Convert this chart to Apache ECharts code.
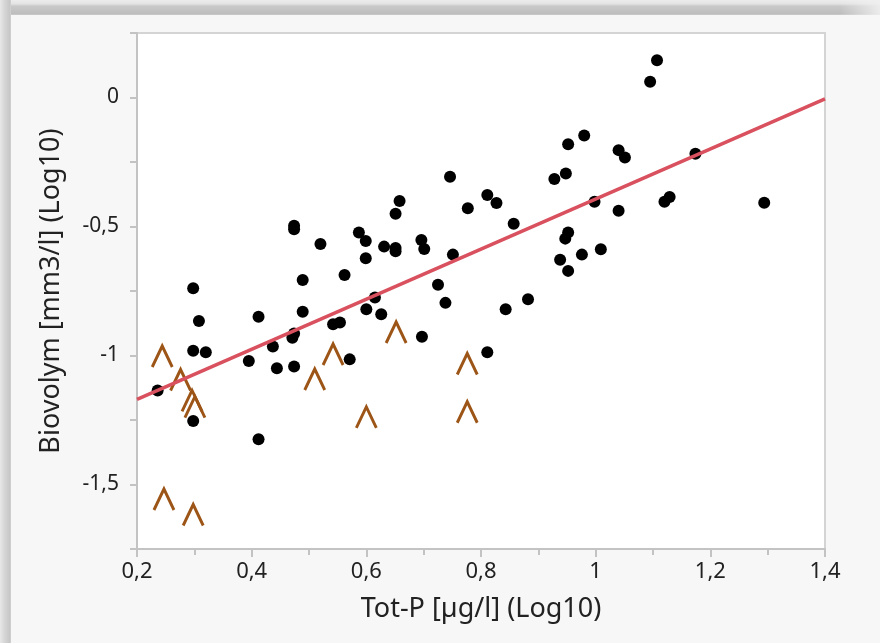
<!DOCTYPE html>
<html>
<head>
<meta charset="utf-8">
<title>Biovolym vs Tot-P</title>
<script src="https://cdn.jsdelivr.net/npm/echarts@6/dist/echarts.min.js"></script>
<style>
  html, body { margin: 0; padding: 0; width: 880px; height: 643px; overflow: hidden; background: #f7f7f7; }
  #frameTop { position: absolute; left: 0; top: 0; width: 880px; height: 15px;
    background: linear-gradient(#ededed 0, #e3e3e3 4px, #c9c9c9 6px, #bdbdbd 14px, #d2d2d2 15px); }
  #frameTopFade { position: absolute; left: 840px; top: 0; width: 40px; height: 15px;
    background: linear-gradient(to right, rgba(240,240,240,0), rgba(240,240,240,0.9)); }
  #frameLeft { position: absolute; left: 0; top: 0; width: 11px; height: 643px;
    background: linear-gradient(to right, #e8e8e8 0, #d8d8d8 4px, #c6c6c6 10px, #d6d6d6 11px); }
  #chart { position: absolute; left: 0; top: 0; width: 880px; height: 643px; }
</style>
</head>
<body>
<div id="frameTop"></div>
<div id="frameTopFade"></div>
<div id="frameLeft"></div>
<div id="chart"></div>
<script>
// measured samples (log10)
const totP = [0.236, 0.298, 0.308, 0.298, 0.320, 0.298, 0.395, 0.412, 0.412, 0.437,
  0.444, 0.474, 0.474, 0.489, 0.489, 0.471, 0.474, 0.474, 0.520, 0.542,
  0.554, 0.562, 0.571, 0.587, 0.599, 0.599, 0.600, 0.615, 0.626, 0.631,
  0.651, 0.651, 0.651, 0.658, 0.696, 0.701, 0.697, 0.725, 0.738, 0.746,
  0.751, 0.777, 0.811, 0.827, 0.811, 0.843, 0.857, 0.882, 0.928, 0.938,
  0.947, 0.952, 0.948, 0.952, 0.952, 0.976, 0.980, 0.998, 1.009, 1.040,
  1.051, 1.040, 1.095, 1.107, 1.120, 1.129, 1.174, 1.294];
const biovolym = [-1.136, -0.739, -0.866, -0.982, -0.987, -1.254, -1.021, -0.850, -1.325, -0.965,
  -1.049, -0.497, -0.511, -0.707, -0.830, -0.931, -0.915, -1.043, -0.568, -0.879,
  -0.872, -0.688, -1.015, -0.523, -0.556, -0.623, -0.821, -0.775, -0.840, -0.578,
  -0.451, -0.583, -0.596, -0.401, -0.552, -0.587, -0.927, -0.726, -0.796, -0.307,
  -0.609, -0.429, -0.378, -0.409, -0.987, -0.821, -0.489, -0.782, -0.316, -0.629,
  -0.547, -0.523, -0.295, -0.181, -0.672, -0.609, -0.147, -0.404, -0.588, -0.204,
  -0.233, -0.439, 0.061, 0.144, -0.404, -0.386, -0.218, -0.408];

// censored samples (detection limit)
const censTotP = [0.244, 0.276, 0.296, 0.301, 0.247, 0.298, 0.510, 0.542, 0.652, 0.600, 0.776, 0.776];
const censBiovolym = [-1.004, -1.095, -1.176, -1.200, -1.558, -1.618, -1.093, -0.996, -0.911, -1.240, -1.033, -1.220];

// fitted line
const fitX = [0.2, 1.4];
const fitY = [-1.17, -0.005];

const font = "'Noto Sans', 'Open Sans', sans-serif";
const textColor = '#222';
const axisGray = '#c3c3c3';
const fmt = v => String(Math.round(v * 100) / 100).replace('.', ',');

const chart = echarts.init(document.getElementById('chart'));

const option = {
  animation: false,
  grid: {
    left: 137, right: 55, top: 33, bottom: 94,
    show: true, backgroundColor: '#fff', borderColor: '#d4d4d4', borderWidth: 2
  },
  xAxis: {
    type: 'value', min: 0.2, max: 1.4, interval: 0.2,
    name: 'Tot-P [µg/l] (Log10)', nameLocation: 'middle', nameGap: 47,
    nameTextStyle: { fontSize: 27, color: textColor, fontFamily: font },
    axisLine: { show: true, onZero: false, lineStyle: { color: axisGray, width: 2 } },
    axisTick: { show: true, length: 8, lineStyle: { color: axisGray, width: 2 } },
    minorTick: { show: true, splitNumber: 2, length: 6, lineStyle: { color: axisGray, width: 2 } },
    splitLine: { show: false },
    axisLabel: { fontSize: 22, color: textColor, fontFamily: font, margin: 12, formatter: fmt }
  },
  yAxis: {
    type: 'value', min: -1.75, max: 0.25, interval: 0.25,
    name: 'Biovolym [mm3/l] (Log10)', nameLocation: 'middle', nameGap: 72,
    nameTextStyle: { fontSize: 27, color: textColor, fontFamily: font },
    axisLine: { show: true, onZero: false, lineStyle: { color: axisGray, width: 2 } },
    axisTick: { show: true, length: 7, lineStyle: { color: axisGray, width: 2 } },
    splitLine: { show: false },
    axisLabel: {
      fontSize: 21, color: textColor, fontFamily: font, margin: 18,
      formatter: v => Math.abs(v * 2 - Math.round(v * 2)) < 1e-6 ? fmt(v) : ''
    }
  },
  series: [
    {
      type: 'scatter',
      data: totP.map((x, i) => [x, biovolym[i]]),
      symbolSize: 12,
      itemStyle: { color: '#000', opacity: 1 }
    },
    {
      type: 'scatter',
      data: censTotP.map((x, i) => [x, censBiovolym[i]]),
      symbol: 'path://M0,20L10,0L20,20',
      symbolSize: [20, 21],
      itemStyle: { color: 'rgba(0,0,0,0)', borderColor: '#9c5516', borderWidth: 3, opacity: 1 }
    },
    {
      type: 'line',
      data: fitX.map((x, i) => [x, fitY[i]]),
      symbol: 'none',
      z: 5,
      lineStyle: { color: '#d9505e', width: 3.5 }
    }
  ]
};

chart.setOption(option);
</script>
</body>
</html>
